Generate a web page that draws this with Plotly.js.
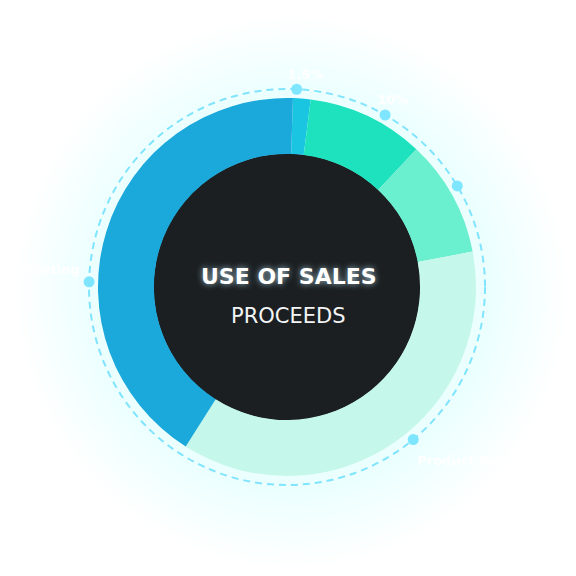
<!DOCTYPE html>
<html>
<head>
<meta charset="utf-8">
<script src="https://cdn.plot.ly/plotly-3.0.1.min.js"></script>
<style>html,body{margin:0;padding:0;background:#fff;}#chart{width:576px;height:576px;}</style>
</head>
<body>
<div id="chart"></div>
<script>
// ---- data ----
var sliceLabels = ["Reserve", "Operations", "Development", "Product Development", "Marketing"];
var sliceValues = [1.5, 10, 10, 37, 41.5];
var sliceColors = ["#19C5E0", "#1EE2BE", "#6AEFCF", "#C5F7EA", "#1BA8DB"];
var dotAngles = [2.8, 29.7, 59.3, 140.4, 271.5];
var dotRadius = [1, 1, 1, 1, 1];
var outerLabels = ["1.5%", "10%", "Marketing", "Product Development"];
var titleMain = "USE OF SALES";
var titleSub = "PROCEEDS";

// ---- geometry helpers (pixels -> paper) ----
var W = 576, H = 576, CX = 287, CY = 287;
function circ(cx, cy, r, style) {
  return Object.assign({type: "circle", xref: "paper", yref: "paper",
    x0: (cx - r) / W, x1: (cx + r) / W, y0: 1 - (cy + r) / H, y1: 1 - (cy - r) / H,
    layer: "below"}, style);
}
function px(x) { return x / W; }
function py(y) { return 1 - y / H; }

var shapes = [];
// soft halo behind the ring (decoration)
for (var r = 274; r >= 200; r -= 4) {
  shapes.push(circ(CX + 5, CY + 5, r, {fillcolor: "rgba(175,238,255,0.017)", line: {width: 0}}));
}
shapes.push(circ(CX, CY, 133.5, {fillcolor: "#1B1F22", line: {width: 0}}));
shapes.push(circ(CX, CY, 198, {layer: "above", fillcolor: "rgba(0,0,0,0)",
  line: {color: "#80E4FF", width: 2, dash: "7px,5px"}}));

var pieTrace = {
  type: "pie",
  labels: sliceLabels,
  values: sliceValues,
  sort: false,
  direction: "clockwise",
  rotation: 1.8,
  hole: 0.704,
  marker: {colors: sliceColors, line: {width: 0}},
  textinfo: "none",
  showlegend: false,
  domain: {x: [px(CX - 189), px(CX + 189)], y: [py(CY + 189), py(CY - 189)]}
};

var dotTrace = {
  type: "scatterpolar",
  r: dotRadius,
  theta: dotAngles,
  mode: "markers",
  marker: {size: 11, color: "#7FE6FF"},
  showlegend: false,
  hoverinfo: "skip"
};

var annotations = [
  {text: titleMain, x: px(CX + 2), y: py(276), xref: "paper", yref: "paper", showarrow: false,
   font: {family: "DejaVu Sans", size: 22, color: "#FFFFFF", weight: 700,
          shadow: "0 0 6px rgba(200,240,255,0.75)"}},
  {text: titleSub, x: px(CX + 1), y: py(316), xref: "paper", yref: "paper", showarrow: false,
   font: {family: "DejaVu Sans", size: 21, color: "#F2F4F5", weight: 400}},
  {text: outerLabels[0], x: px(305), y: py(65), xref: "paper", yref: "paper", showarrow: false,
   font: {family: "DejaVu Sans", size: 13, color: "#FFFFFF", weight: 700}},
  {text: outerLabels[1], x: px(410), y: py(90), xref: "paper", yref: "paper", showarrow: false,
   font: {family: "DejaVu Sans", size: 13, color: "#FFFFFF", weight: 700}},
  {text: outerLabels[2], x: px(81), y: py(269), xref: "paper", yref: "paper", showarrow: false,
   xanchor: "right", font: {family: "DejaVu Sans", size: 13, color: "#FFFFFF", weight: 700}},
  {text: outerLabels[3], x: px(415), y: py(470), xref: "paper", yref: "paper", showarrow: false,
   xanchor: "left", font: {family: "DejaVu Sans", size: 13, color: "#FFFFFF", weight: 700}}
];

var layout = {
  width: W, height: H,
  margin: {l: 0, r: 0, t: 0, b: 0},
  paper_bgcolor: "#FFFFFF",
  plot_bgcolor: "rgba(0,0,0,0)",
  showlegend: false,
  shapes: shapes,
  annotations: annotations,
  polar: {
    domain: {x: [px(CX - 198), px(CX + 198)], y: [py(CY + 198), py(CY - 198)]},
    bgcolor: "rgba(0,0,0,0)",
    radialaxis: {range: [0, 1], visible: false, showgrid: false},
    angularaxis: {rotation: 90, direction: "clockwise", visible: false, showgrid: false, showline: false}
  }
};

Plotly.newPlot("chart", [pieTrace, dotTrace], layout, {displayModeBar: false, staticPlot: true});
</script>
</body>
</html>
